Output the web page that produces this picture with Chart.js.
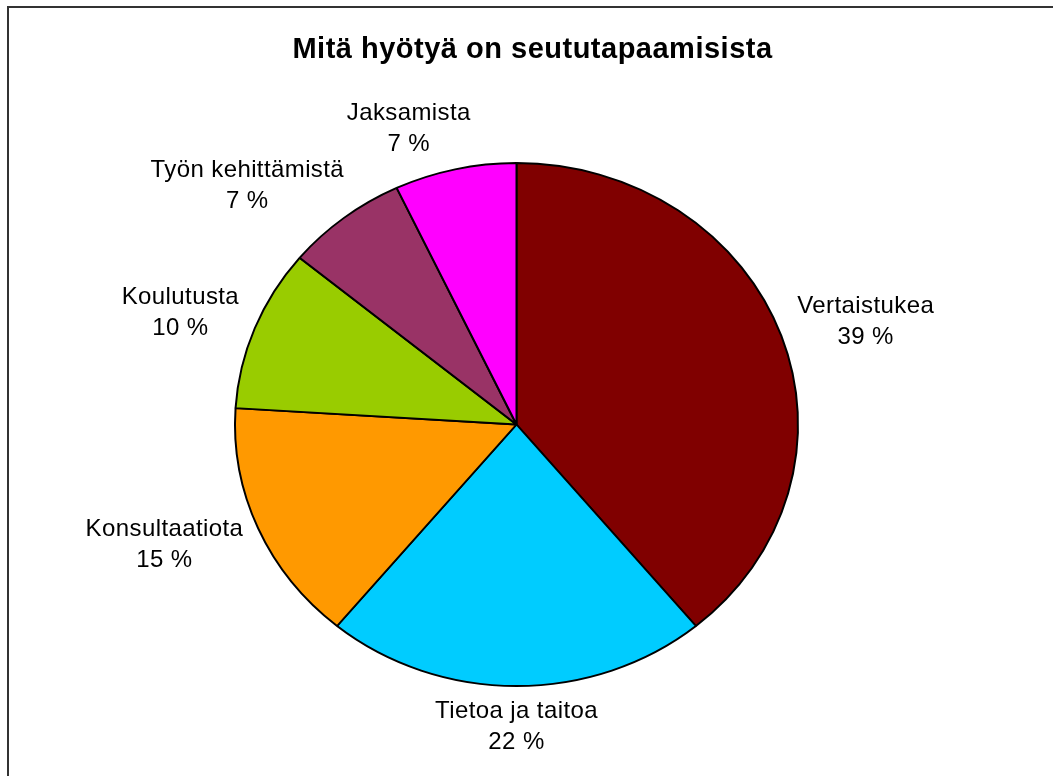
<!DOCTYPE html>
<html><head><meta charset="utf-8">
<script src="https://cdn.jsdelivr.net/npm/chart.js@4.4.1/dist/chart.umd.min.js"></script>
<style>html,body{margin:0;padding:0;background:#fff;} #wrap{position:relative;width:1053px;height:776px;}</style>
</head><body><div id="wrap"><canvas id="c" width="1053" height="776"></canvas></div>
<script>
const chartTitle = 'Mitä hyötyä on seututapaamisista';
const categories = ['Vertaistukea','Tietoa ja taitoa','Konsultaatiota','Koulutusta','Työn kehittämistä','Jaksamista'];
const values = [39, 22, 15, 10, 7, 7];
const colors = ['#800000','#00CCFF','#FF9900','#99CC00','#993366','#FF00FF'];

// target ellipse geometry (layout)
const CX = 516.5, CY = 424.5, RX = 281.5, RY = 261.5;
const LABEL_FONT = '24px "Liberation Sans", Arial, sans-serif';
const LINE_GAP = 31, LABEL_GAP_X = 18, LABEL_GAP_Y = 10;

const framePlugin = {
  id: 'frame',
  beforeDraw(chart) {
    const ctx = chart.ctx;
    ctx.save();
    ctx.fillStyle = '#fff';
    ctx.fillRect(0, 0, chart.width, chart.height);
    ctx.fillStyle = '#333';
    ctx.fillRect(7, 6, chart.width, 2);
    ctx.fillRect(7, 6, 2, chart.height);
    ctx.restore();
    ctx.letterSpacing = '0.5px';
  }
};

const ellipsePlugin = {
  id: 'ellipse',
  beforeDatasetsDraw(chart) {
    const arc = chart.getDatasetMeta(0).data[0];
    const ctx = chart.ctx;
    ctx.letterSpacing = '0px';
    ctx.save();
    ctx.translate(CX, CY);
    ctx.scale(RX / arc.outerRadius, RY / arc.outerRadius);
    ctx.translate(-arc.x, -arc.y);
  },
  afterDatasetsDraw(chart) {
    const ctx = chart.ctx;
    ctx.restore();
    const meta = chart.getDatasetMeta(0);
    const total = values.reduce((a, b) => a + b, 0);
    ctx.save();
    ctx.letterSpacing = '0.4px';
    ctx.font = LABEL_FONT;
    ctx.fillStyle = '#000';
    ctx.textAlign = 'center';
    ctx.textBaseline = 'middle';
    meta.data.forEach((arc, i) => {
      const a = (arc.startAngle + arc.endAngle) / 2;
      const c = Math.cos(a), s = Math.sin(a);
      const px = CX + RX * c + LABEL_GAP_X * c;
      const py = CY + RY * s + LABEL_GAP_Y * s;
      const l1 = categories[i];
      const l2 = Math.round(values[i] / total * 100) + ' %';
      const w = Math.max(ctx.measureText(l1).width, ctx.measureText(l2).width);
      const h = LINE_GAP * 2;
      const fx = Math.sign(c) * Math.pow(Math.abs(c), 0.25);
      const lx = px + fx * w / 2;
      const ly = py + s * h / 2;
      ctx.fillText(l1, lx, ly - LINE_GAP / 2);
      ctx.fillText(l2, lx, ly + LINE_GAP / 2);
    });
    ctx.restore();
  }
};

new Chart(document.getElementById('c'), {
  type: 'pie',
  data: {
    labels: categories,
    datasets: [{
      data: values,
      backgroundColor: colors,
      borderColor: '#000',
      borderWidth: 2,
      radius: 282
    }]
  },
  options: {
    responsive: false,
    animation: false,
    events: [],
    layout: { padding: { left: 12 } },
    plugins: {
      legend: { display: false },
      tooltip: { enabled: false },
      title: {
        display: true,
        text: chartTitle,
        color: '#000',
        font: { family: '"Liberation Sans", Arial, sans-serif', size: 29, weight: 'bold' },
        padding: { top: 33, bottom: 10 }
      }
    }
  },
  plugins: [framePlugin, ellipsePlugin]
});
</script>
</body></html>
